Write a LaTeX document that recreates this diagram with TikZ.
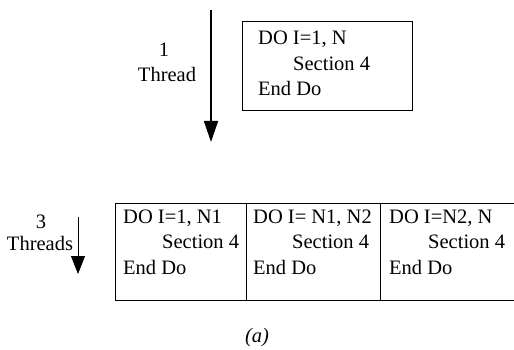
\documentclass[tikz,border=0pt]{standalone}
\usepackage{fontspec}
\setmainfont{Liberation Serif}
\usetikzlibrary{arrows.meta}

\begin{document}
\begin{tikzpicture}[x=1pt, y=-1pt,
  font=\fontsize{20.5}{25.5}\selectfont,
  cell/.style={draw, line width=1.3pt, minimum height=97pt, inner sep=0pt, anchor=north west},
  code/.style={align=left, anchor=north west, inner sep=0pt}]
\useasboundingbox (0,0) rectangle (514,350);

% One thread
\coordinate (topstart) at (211,10);
\coordinate (topend) at (211,142);
\draw[-{Triangle[length=21pt,width=14pt]}, line width=1.5pt] (topstart) -- (topend);
\node (one) at (164,50) {1};
\node (thread) at (167,74) {Thread};

\node[cell, minimum width=170pt, minimum height=89pt] (loop) at (242,21) {};
\node[code] (loopcode) at (258,31) {DO I=1, N\\\hspace*{35pt}Section 4\\End Do};

% Three threads
\coordinate (botstart) at (78,217);
\coordinate (botend) at (78,274);
\draw[-{Triangle[length=18pt,width=14pt]}, line width=0.9pt] (botstart) -- (botend);
\node (three) at (41,222) {3};
\node (threads) at (40,243) {Threads};

\node[cell, minimum width=131pt] (cella) at (115,203) {};
\node[cell, minimum width=134pt] (cellb) at (246,203) {};
\node[cell, minimum width=140pt] (cellc) at (380,203) {};

\node[code] (codea) at (123,209.5) {DO I=1, N1\\\hspace*{39pt}Section 4\\End Do};
\node[code] (codeb) at (253,209.5) {DO I= N1, N2\\\hspace*{39pt}Section 4\\End Do};
\node[code] (codec) at (389,209.5) {DO I=N2, N\\\hspace*{39pt}Section 4\\End Do};

% Caption
\node (caption) at (257,338) {\textit{(a)}};

\end{tikzpicture}
\end{document}
